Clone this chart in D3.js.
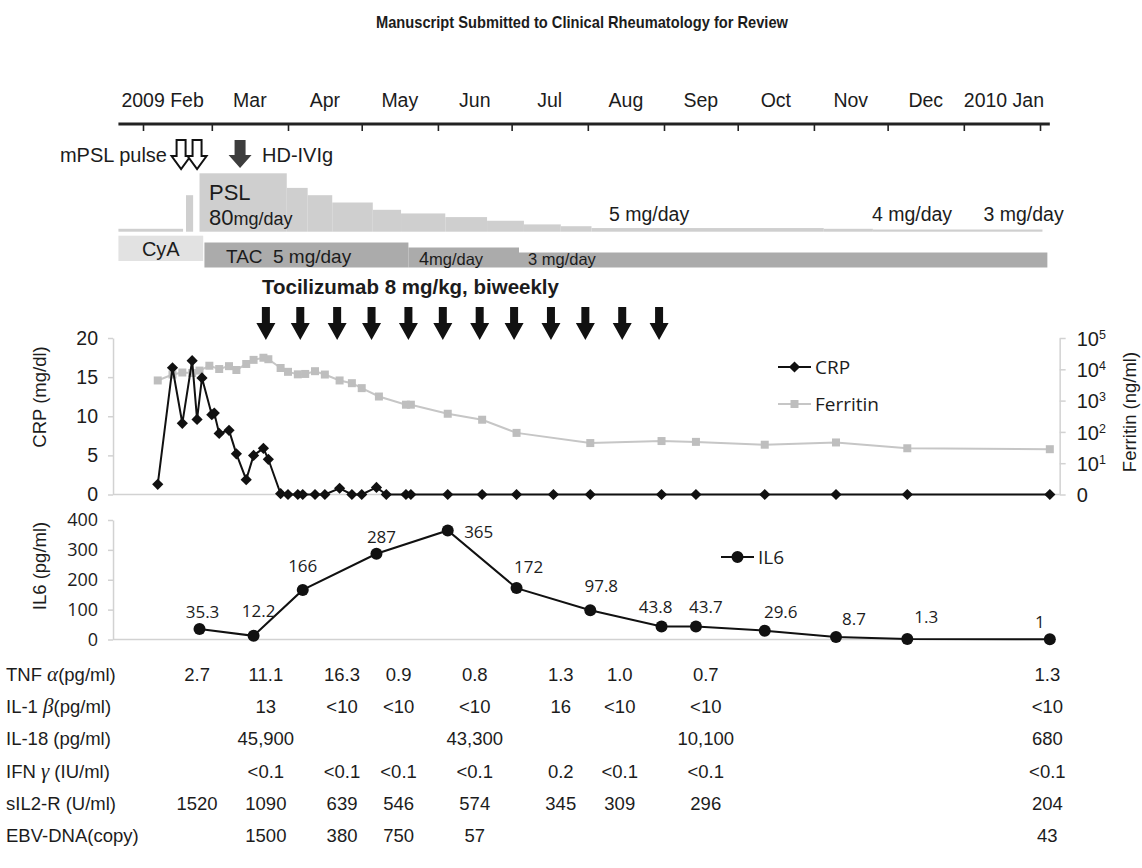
<!DOCTYPE html>
<html>
<head>
<meta charset="utf-8">
<script src="https://cdn.jsdelivr.net/npm/d3@7"></script>
<style>
  body { margin: 0; background: #fff; }
  svg text { font-family: "Liberation Sans", Arial, sans-serif; fill: #1c1c1c; }
  svg text.soft { font-family: "Open Sans", "Noto Sans", sans-serif; }
</style>
</head>
<body>
<script>
// days are counted from 1 Feb 2009
var monthLabels = ['2009 Feb', 'Mar', 'Apr', 'May', 'Jun', 'Jul', 'Aug', 'Sep', 'Oct', 'Nov', 'Dec', '2010 Jan'];

var crpDays = [6, 12, 16, 20, 22, 24, 28, 29, 31, 35, 38, 42, 45, 49, 51, 56, 59, 63, 65, 70,
  74, 80, 85, 89, 95, 99, 107, 109, 124, 138, 152, 167, 182, 211, 225, 253, 282, 311, 369];
var crpValues = [1.3, 16.2, 9.1, 17.1, 9.6, 14.9, 10.2, 10.4, 7.8, 8.2, 5.2, 1.9, 5.0, 5.9, 4.5, 0.1, 0, 0, 0, 0,
  0, 0.8, 0, 0, 0.9, 0, 0, 0, 0, 0, 0, 0, 0, 0, 0, 0, 0, 0, 0];

var ferritinDays = [6, 12, 16, 20, 23, 27, 31, 35, 38, 42, 45, 49, 51, 56, 59, 63, 66, 70, 74, 80,
  85, 89, 96, 107, 109, 124, 138, 152, 182, 211, 225, 253, 282, 311, 369];
var ferritinValues = [4400, 6800, 7900, 7600, 9100, 13000, 10200, 12600, 9500, 14800, 20000, 23400, 21000, 11000, 8300, 6900, 7100, 8700, 6800, 4400,
  3600, 2500, 1350, 740, 740, 380, 245, 93, 44, 51, 48, 39, 46, 30, 28];

var il6Days = [23, 45, 65, 95, 124, 152, 182, 211, 225, 253, 282, 311, 369];
var il6Values = [35.3, 12.2, 166, 287, 365, 172, 97.8, 43.8, 43.7, 29.6, 8.7, 1.3, 1];
var il6Text = ['35.3', '12.2', '166', '287', '365', '172', '97.8', '43.8', '43.7', '29.6', '8.7', '1.3', '1'];

var tocilizumabDays = [50, 64, 79, 93, 108, 122, 137, 151, 166, 180, 195, 210];
var mpslDays = [15.5, 22];
var ivigDays = [39.5];

// [start day, end day, mg/day]
var pslSteps = [[-10, 16.3, 4], [17.5, 20.4, 50], [23, 58.5, 80], [58.5, 67, 60], [67, 77, 50], [77, 93.5, 40],
  [93.5, 105, 30], [105, 123, 25], [123, 140, 20], [140, 155, 15], [155, 170, 10], [170, 182.5, 7.5],
  [182.5, 277, 5], [277, 297, 4], [297, 366, 3]];
var tacSteps = [[25, 108, 5], [108, 153, 4], [153, 368, 3]];
var cyaSpan = [-10, 24.5];

var tableLabels = [
  [['TNF ', 0], ['\u03b1', 1], ['(pg/ml)', 0]],
  [['IL-1 ', 0], ['\u03b2', 1], ['(pg/ml)', 0]],
  [['IL-18 (pg/ml)', 0]],
  [['IFN ', 0], ['\u03b3', 1], [' (IU/ml)', 0]],
  [['sIL2-R (U/ml)', 0]],
  [['EBV-DNA(copy)', 0]]
];
var tableDays = [22, 50, 81, 104, 135, 170, 194, 229, 368];
var tnfValues = ['2.7', '11.1', '16.3', '0.9', '0.8', '1.3', '1.0', '0.7', '1.3'];
var il1bValues = ['', '13', '<10', '<10', '<10', '16', '<10', '<10', '<10'];
var il18Values = ['', '45,900', '', '', '43,300', '', '', '10,100', '680'];
var ifngValues = ['', '<0.1', '<0.1', '<0.1', '<0.1', '0.2', '<0.1', '<0.1', '<0.1'];
var sil2rValues = ['1520', '1090', '639', '546', '574', '345', '309', '296', '204'];
var ebvValues = ['', '1500', '380', '750', '57', '', '', '', '43'];
var tableValues = [tnfValues, il1bValues, il18Values, ifngValues, sil2rValues, ebvValues];

var W = 1142, H = 868;
var svg = d3.select('body').append('svg').attr('width', W).attr('height', H);

var t0 = Date.UTC(2009, 1, 1);
function dt(d) { return new Date(t0 + d * 864e5); }
var x = d3.scaleUtc().domain([dt(0), dt(365)]).range([143, 1040]);
function xd(d) { return x(dt(d)); }

// title
svg.append('text')
  .attr('x', 582).attr('y', 28)
  .attr('text-anchor', 'middle')
  .attr('textLength', 412).attr('lengthAdjust', 'spacingAndGlyphs')
  .style('font-family', '"Liberation Sans Narrow", "Arial Narrow", "Liberation Sans", sans-serif')
  .style('font-weight', 'bold').style('font-size', '17px')
  .text('Manuscript Submitted to Clinical Rheumatology for Review');

// time line
var monthTicks = d3.utcMonth.range(dt(0), dt(366));
var axisY = 124;
var tl = svg.append('g').attr('transform', 'translate(0,' + axisY + ')');
tl.call(d3.axisBottom(x).tickValues(monthTicks).tickSize(7).tickFormat(''));
tl.select('.domain').remove();
tl.selectAll('.tick line').attr('stroke', '#222').attr('stroke-width', 1.6);
tl.append('line').attr('x1', xd(-10)).attr('x2', xd(369)).attr('y1', 0).attr('y2', 0)
  .attr('stroke', '#222').attr('stroke-width', 3);

svg.selectAll('.month').data(monthLabels).enter().append('text')
  .attr('class', 'month')
  .attr('x', function(d, i) {
    if (i === 0) return x(monthTicks[1]) - 8;
    if (i === monthLabels.length - 1) return x(monthTicks[i]);
    return (x(monthTicks[i]) + x(monthTicks[i + 1])) / 2;
  })
  .attr('text-anchor', function(d, i) { return i === 0 ? 'end' : (i === monthLabels.length - 1 ? 'start' : 'middle'); })
  .attr('y', 107).style('font-size', '19.5px')
  .text(function(d) { return d; });

function arrowPath(cx, top, tip, shaftW, headW, headLen) {
  var hy = tip - headLen, p = d3.path();
  p.moveTo(cx - shaftW / 2, top);
  p.lineTo(cx + shaftW / 2, top);
  p.lineTo(cx + shaftW / 2, hy);
  p.lineTo(cx + headW / 2, hy);
  p.lineTo(cx, tip);
  p.lineTo(cx - headW / 2, hy);
  p.lineTo(cx - shaftW / 2, hy);
  p.closePath();
  return p.toString();
}

// mPSL pulse and IVIg
svg.selectAll('.mpsl').data(mpslDays).enter().append('path')
  .attr('d', function(d) { return arrowPath(xd(d), 140, 169, 9, 19, 13); })
  .attr('fill', '#fff').attr('stroke', '#111').attr('stroke-width', 2);
svg.append('text').attr('x', 167).attr('y', 162).attr('text-anchor', 'end').style('font-size', '20px').text('mPSL pulse');
svg.selectAll('.ivig').data(ivigDays).enter().append('path')
  .attr('d', function(d) { return arrowPath(xd(d), 140, 168, 11, 23, 13); })
  .attr('fill', '#3d3d3d');
svg.append('text').attr('x', 262).attr('y', 162).style('font-size', '20px').text('HD-IVIg');

// PSL taper
var pslY = d3.scaleLinear().domain([0, 80]).range([231.7, 173.3]);
svg.selectAll('.psl').data(pslSteps).enter().append('rect')
  .attr('x', function(d) { return xd(d[0]); })
  .attr('width', function(d) { return xd(d[1]) - xd(d[0]); })
  .attr('y', function(d) { return pslY(d[2]); })
  .attr('height', function(d) { return pslY(0) - pslY(d[2]); })
  .attr('fill', '#cfcfcf');
svg.append('text').attr('x', 209).attr('y', 200).style('font-size', '22px').text('PSL');
var t80 = svg.append('text').attr('x', 209).attr('y', 225);
t80.append('tspan').style('font-size', '22px').text('80');
t80.append('tspan').style('font-size', '18px').text('mg/day');
[[189.6, '5 mg/day'], [296.6, '4 mg/day'], [342, '3 mg/day']].forEach(function(p) {
  svg.append('text').attr('x', xd(p[0])).attr('y', 221).style('font-size', '19.5px').text(p[1]);
});

// CyA and TAC
svg.append('rect').attr('x', xd(cyaSpan[0])).attr('width', xd(cyaSpan[1]) - xd(cyaSpan[0]))
  .attr('y', 235.7).attr('height', 25.3).attr('fill', '#e2e2e2');
svg.append('text').attr('x', (xd(cyaSpan[0]) + xd(cyaSpan[1])) / 2).attr('y', 256)
  .attr('text-anchor', 'middle').style('font-size', '20px').text('CyA');
var tacY = d3.scaleLinear().domain([0, 5]).range([267.5, 242.5]);
svg.selectAll('.tac').data(tacSteps).enter().append('rect')
  .attr('x', function(d) { return xd(d[0]); })
  .attr('width', function(d) { return xd(d[1]) - xd(d[0]); })
  .attr('y', function(d) { return tacY(d[2]); })
  .attr('height', function(d) { return tacY(0) - tacY(d[2]); })
  .attr('fill', '#ababab');
svg.append('text').attr('x', 226).attr('y', 263).style('font-size', '19px').text('TAC');
svg.append('text').attr('x', 273).attr('y', 263).style('font-size', '19px').text('5 mg/day');
var t4 = svg.append('text').attr('x', 419).attr('y', 265);
t4.append('tspan').style('font-size', '18px').text('4');
t4.append('tspan').style('font-size', '16.5px').text('mg/day');
svg.append('text').attr('x', 528).attr('y', 265).style('font-size', '16.5px').text('3 mg/day');

// Tocilizumab
svg.append('text').attr('x', 262).attr('y', 294).style('font-size', '20.5px').style('font-weight', 'bold')
  .text('Tocilizumab 8 mg/kg, biweekly');
svg.selectAll('.toc').data(tocilizumabDays).enter().append('path')
  .attr('d', function(d) { return arrowPath(xd(d), 307, 340, 8, 19, 17); })
  .attr('fill', '#111');

// CRP / ferritin panel
var axisColor = '#d2d2d2';
var xLeft = xd(-12.2), xRight = xd(373);
var yCrp = d3.scaleLinear().domain([0, 20]).range([494.5, 338]);
var yFer = d3.scaleLog().domain([1, 1e5]).range([494.5, 338]);
var yIl6 = d3.scaleLinear().domain([0, 400]).range([639.5, 520]);

function styleAxis(g) {
  g.select('.domain').attr('stroke', axisColor).attr('stroke-width', 1.5);
  g.selectAll('.tick line').attr('stroke', axisColor).attr('stroke-width', 1.5);
  g.selectAll('.tick text').attr('fill', '#333').style('font-size', '19.5px')
    .style('font-family', '"Liberation Sans", Arial, sans-serif');
}

var gL = svg.append('g').attr('transform', 'translate(' + xLeft + ',0)')
  .call(d3.axisLeft(yCrp).tickValues([0, 5, 10, 15, 20]).tickSize(5).tickSizeOuter(0).tickPadding(10));
styleAxis(gL);

var gR = svg.append('g').attr('transform', 'translate(' + xRight + ',0)')
  .call(d3.axisRight(yFer).tickValues([1, 10, 100, 1e3, 1e4, 1e5]).tickSize(6).tickSizeOuter(0).tickFormat(''));
styleAxis(gR);
gR.selectAll('.tick').each(function(d) {
  var t = d3.select(this).append('text').attr('x', 17).attr('dy', '0.36em')
    .attr('fill', '#222').style('font-size', '20px');
  if (d === 1) { t.text('0'); return; }
  t.append('tspan').text('10');
  t.append('tspan').attr('dy', '-0.55em').style('font-size', '12.5px').text(Math.round(Math.log10(d)));
});

svg.append('line').attr('x1', xLeft).attr('x2', xRight).attr('y1', yCrp(0)).attr('y2', yCrp(0))
  .attr('stroke', axisColor).attr('stroke-width', 1.5);

var ferData = ferritinDays.map(function(d, i) { return { day: d, v: ferritinValues[i] }; });
var crpData = crpDays.map(function(d, i) { return { day: d, v: crpValues[i] }; });
var il6Data = il6Days.map(function(d, i) { return { day: d, v: il6Values[i], t: il6Text[i] }; });

svg.append('path').datum(ferData)
  .attr('d', d3.line().x(function(d) { return xd(d.day); }).y(function(d) { return yFer(d.v); }))
  .attr('fill', 'none').attr('stroke', '#c6c6c6').attr('stroke-width', 2);
var sq = d3.symbol().type(d3.symbolSquare).size(64);
svg.selectAll('.fer').data(ferData).enter().append('path')
  .attr('transform', function(d) { return 'translate(' + xd(d.day) + ',' + yFer(d.v) + ')'; })
  .attr('d', sq).attr('fill', '#bebebe');

svg.append('path').datum(crpData)
  .attr('d', d3.line().x(function(d) { return xd(d.day); }).y(function(d) { return yCrp(d.v); }))
  .attr('fill', 'none').attr('stroke', '#111').attr('stroke-width', 2);
var dia = d3.symbol().type(d3.symbolDiamond2).size(80);
svg.selectAll('.crp').data(crpData).enter().append('path')
  .attr('transform', function(d) { return 'translate(' + xd(d.day) + ',' + yCrp(d.v) + ')'; })
  .attr('d', dia).attr('fill', '#111');

// legend
function legendItem(x0, y0, sym, color, fillColor, label) {
  svg.append('line').attr('x1', x0).attr('x2', x0 + 33).attr('y1', y0).attr('y2', y0)
    .attr('stroke', color).attr('stroke-width', 2);
  svg.append('path').attr('transform', 'translate(' + (x0 + 16.5) + ',' + y0 + ')').attr('d', sym).attr('fill', fillColor);
  svg.append('text').attr('class', 'soft').attr('x', x0 + 37).attr('y', y0).attr('dy', '0.36em')
    .style('font-size', '19px').attr('fill', '#222').text(label);
}
legendItem(778, 367, dia, '#111', '#111', 'CRP');
legendItem(778, 404, sq, '#c6c6c6', '#bebebe', 'Ferritin');

// IL6 panel
var gI = svg.append('g').attr('transform', 'translate(' + xLeft + ',0)')
  .call(d3.axisLeft(yIl6).tickValues([0, 100, 200, 300, 400]).tickSize(5).tickSizeOuter(0).tickPadding(10));
styleAxis(gI);
gI.selectAll('.tick text').attr('class', 'soft').style('font-family', '"Open Sans", "Noto Sans", sans-serif').style('font-size', '18px');
svg.append('line').attr('x1', xLeft).attr('x2', xd(371)).attr('y1', yIl6(0)).attr('y2', yIl6(0))
  .attr('stroke', axisColor).attr('stroke-width', 1.5);

svg.append('path').datum(il6Data)
  .attr('d', d3.line().x(function(d) { return xd(d.day); }).y(function(d) { return yIl6(d.v); }))
  .attr('fill', 'none').attr('stroke', '#111').attr('stroke-width', 2);
svg.selectAll('.il6').data(il6Data).enter().append('circle')
  .attr('cx', function(d) { return xd(d.day); }).attr('cy', function(d) { return yIl6(d.v); })
  .attr('r', 6).attr('fill', '#111');

// data labels sit roughly above each point, nudged as in the source figure
var il6LabelShift = [[3, -17], [5, -25], [0, -24], [5, -17], [31, 1], [12, -21], [11, -24],
  [-6, -20], [10, -20], [16, -19], [18, -18], [19, -22], [-10, -17]];
svg.selectAll('.il6lab').data(il6Data).enter().append('text')
  .attr('class', 'soft')
  .attr('x', function(d, i) { return xd(d.day) + il6LabelShift[i][0]; })
  .attr('y', function(d, i) { return yIl6(d.v) + il6LabelShift[i][1]; })
  .attr('dy', '0.36em').attr('text-anchor', 'middle')
  .style('font-size', '17px').attr('fill', '#333')
  .text(function(d) { return d.t; });
var cir = d3.symbol().type(d3.symbolCircle).size(113);
legendItem(721, 557, cir, '#111', '#111', 'IL6');

// axis titles
function vLabel(cx, cy, txt) {
  svg.append('text').attr('transform', 'translate(' + cx + ',' + cy + ') rotate(-90)')
    .attr('text-anchor', 'middle').style('font-size', '18.5px').text(txt);
}
vLabel(46, 397, 'CRP (mg/dl)');
vLabel(46, 566, 'IL6 (pg/ml)');
vLabel(1136, 412, 'Ferritin (ng/ml)');

// cytokine table
var rowY = d3.scalePoint().domain(d3.range(tableLabels.length)).range([681, 842]);
tableLabels.forEach(function(parts, r) {
  var t = svg.append('text').attr('x', 6).attr('y', rowY(r)).style('font-size', '18.5px');
  parts.forEach(function(p) {
    var s = t.append('tspan').text(p[0]);
    if (p[1]) s.style('font-family', '"Liberation Serif", "DejaVu Serif", serif').style('font-style', 'italic').style('font-size', '21px');
  });
  svg.selectAll('.cell' + r).data(tableValues[r]).enter().append('text')
    .attr('x', function(d, i) { return xd(tableDays[i]); })
    .attr('y', rowY(r)).attr('text-anchor', 'middle').style('font-size', '18.5px')
    .text(function(d) { return d; });
});
</script>
</body>
</html>
